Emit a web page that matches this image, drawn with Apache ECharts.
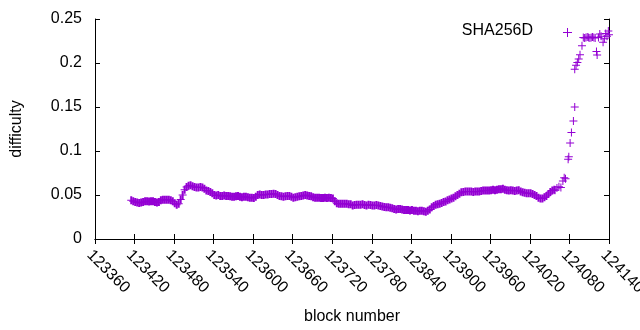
<!DOCTYPE html>
<html>
<head>
<meta charset="utf-8">
<script src="https://cdn.jsdelivr.net/npm/echarts@6/dist/echarts.min.js"></script>
<style>
  html, body { margin: 0; padding: 0; background: #fff; }
  #chart { width: 640px; height: 330px; }
</style>
</head>
<body>
<div id="chart"></div>
<script>
// block numbers on x, difficulty on y
const xTicks = { min: 123360, max: 124140, step: 60 };
const yTicks = { min: 0, max: 0.25, step: 0.05 };

// main stretch: one reading every 3 blocks starting at firstBlock
const firstBlock = 123415;
const blockStep = 3;
const mainDifficulty = [
  0.044, 0.043, 0.042, 0.0415, 0.041, 0.0415, 0.042, 0.043, 0.043, 0.0425,
  0.043, 0.043, 0.042, 0.0415, 0.042, 0.044, 0.0445, 0.0445, 0.0445, 0.0445,
  0.044, 0.043, 0.0405, 0.039, 0.040, 0.045, 0.050, 0.056, 0.059, 0.0605,
  0.061, 0.060, 0.059, 0.0585, 0.0585, 0.059, 0.0585, 0.057, 0.055, 0.0545,
  0.0535, 0.052, 0.050, 0.0495, 0.050, 0.049, 0.049, 0.0495, 0.049, 0.049,
  0.0485, 0.048, 0.048, 0.0485, 0.049, 0.048, 0.0475, 0.048, 0.048, 0.0475,
  0.047, 0.047, 0.0465, 0.048, 0.050, 0.0505, 0.050, 0.050, 0.0505, 0.0505,
  0.051, 0.051, 0.0515, 0.051, 0.050, 0.049, 0.0485, 0.048, 0.0485, 0.049,
  0.049, 0.048, 0.047, 0.0475, 0.048, 0.0485, 0.049, 0.0495, 0.050, 0.0495,
  0.049, 0.0485, 0.0475, 0.047, 0.047, 0.047, 0.0465, 0.0465, 0.047, 0.0465,
  0.047, 0.0465, 0.046, 0.043, 0.0405, 0.040, 0.040, 0.040, 0.040, 0.040,
  0.0395, 0.0395, 0.038, 0.0385, 0.039, 0.039, 0.039, 0.0395, 0.0385, 0.038,
  0.039, 0.0385, 0.038, 0.038, 0.0385, 0.038, 0.0375, 0.037, 0.0365, 0.036,
  0.036, 0.0355, 0.035, 0.034, 0.0335, 0.034, 0.034, 0.0335, 0.033, 0.033,
  0.033, 0.0325, 0.033, 0.032, 0.032, 0.0315, 0.032, 0.032, 0.0315, 0.031,
  0.032, 0.0335, 0.036, 0.0375, 0.039, 0.0395, 0.040, 0.041, 0.042, 0.0425,
  0.044, 0.045, 0.046, 0.047, 0.0485, 0.050, 0.0515, 0.053, 0.0535, 0.054,
  0.054, 0.054, 0.054, 0.0535, 0.054, 0.054, 0.054, 0.0545, 0.055, 0.055,
  0.055, 0.055, 0.0555, 0.056, 0.0555, 0.056, 0.0565, 0.0565, 0.057, 0.056,
  0.0555, 0.055, 0.0555, 0.055, 0.0545, 0.055, 0.0555, 0.054, 0.053, 0.0525,
  0.052, 0.052, 0.052, 0.051, 0.050, 0.049, 0.047, 0.046, 0.046, 0.0475,
  0.049, 0.051, 0.0535, 0.055, 0.056
];

// the sparse climb at the end, read point by point
const tailBlocks = [
  124058, 124061, 124064, 124067, 124070, 124072, 124074, 124078, 124079, 124081,
  124083, 124086, 124088, 124088, 124090, 124092, 124094, 124096, 124099,
  124101, 124103, 124105, 124107, 124109, 124111, 124113, 124115, 124117, 124119,
  124121, 124122, 124124, 124126, 124128, 124131, 124133, 124135, 124137, 124139, 124140
];
const tailDifficulty = [
  0.0555, 0.058, 0.0595, 0.0585, 0.066, 0.0695, 0.0685, 0.0905, 0.0935, 0.109,
  0.121, 0.134, 0.150, 0.193, 0.1975, 0.2005, 0.2045, 0.2095, 0.2195,
  0.229, 0.2285, 0.229, 0.2295, 0.229, 0.2285, 0.229, 0.2295, 0.229, 0.2285,
  0.213, 0.209, 0.229, 0.233, 0.2305, 0.2235, 0.2275, 0.2335, 0.2305, 0.2365, 0.232
];

const seriesName = 'SHA256D';
const purple = '#9400d3';
const font = '"Liberation Sans", Arial, sans-serif';

const mainPoints = mainDifficulty.map((d, i) => [firstBlock + i * blockStep, d]);
const tailPoints = tailBlocks.map((b, i) => [b, tailDifficulty[i]]);

const chart = echarts.init(document.getElementById('chart'), null, { renderer: 'canvas' });

// gnuplot style "+" point; the dense stretch gets a 2px upright so the band closes up
const plusPath = 'path://M3.5,0H4.5V3.5H8V4.5H4.5V8H3.5V4.5H0V3.5H3.5Z';
const densePlusPath = 'path://M3,0H5V3.5H8V4.5H5V8H3V4.5H0V3.5H3Z';

const boxAxis = {
  axisLine: { show: true, lineStyle: { color: '#000', width: 1 } },
  axisTick: { show: true, inside: true, length: 5, lineStyle: { color: '#000' } },
  splitLine: { show: false }
};

const pointSeries = (data, symbol) => ({
  name: seriesName,
  type: 'scatter',
  xAxisIndex: 0, yAxisIndex: 0,
  symbol: symbol,
  symbolSize: 8,
  itemStyle: { color: purple, opacity: 1, borderWidth: 0 },
  emphasis: { disabled: true },
  data: data
});

chart.setOption({
  animation: false,
  textStyle: { fontFamily: font },
  grid: {
    left: 95, right: 31, top: 19, bottom: 91,
    containLabel: false, outerBoundsMode: 'none'
  },
  xAxis: [
    {
      type: 'value', position: 'bottom',
      min: xTicks.min, max: xTicks.max, interval: xTicks.step,
      ...boxAxis,
      axisLabel: {
        rotate: -45, margin: 8, align: 'left', verticalAlign: 'top',
        color: '#000', fontSize: 16, fontFamily: font,
        formatter: v => String(v)
      },
      name: 'block number', nameLocation: 'middle', nameGap: 70,
      nameTextStyle: { color: '#000', fontSize: 16, fontFamily: font }
    },
    {
      type: 'value', position: 'top',
      min: xTicks.min, max: xTicks.max, interval: xTicks.step,
      ...boxAxis,
      axisLabel: { show: false }
    }
  ],
  yAxis: [
    {
      type: 'value', position: 'left',
      min: yTicks.min, max: yTicks.max, interval: yTicks.step,
      ...boxAxis,
      axisLabel: { margin: 13, color: '#000', fontSize: 16, fontFamily: font },
      name: 'difficulty', nameLocation: 'middle', nameGap: 70,
      nameTextStyle: { color: '#000', fontSize: 16, fontFamily: font }
    },
    {
      type: 'value', position: 'right',
      min: yTicks.min, max: yTicks.max, interval: yTicks.step,
      ...boxAxis,
      axisLabel: { show: false }
    }
  ],
  series: [
    pointSeries(mainPoints, densePlusPath),
    pointSeries(tailPoints, plusPath)
  ],
  graphic: [
    {
      type: 'text', right: 640 - 533, top: 23,
      style: { text: seriesName, fill: '#000', font: '16px ' + font }
    },
    {
      type: 'line', shape: { x1: 563, y1: 32.5, x2: 572, y2: 32.5 },
      style: { stroke: purple, lineWidth: 1 }
    },
    {
      type: 'line', shape: { x1: 567.5, y1: 28, x2: 567.5, y2: 37 },
      style: { stroke: purple, lineWidth: 1 }
    }
  ]
});
</script>
</body>
</html>
